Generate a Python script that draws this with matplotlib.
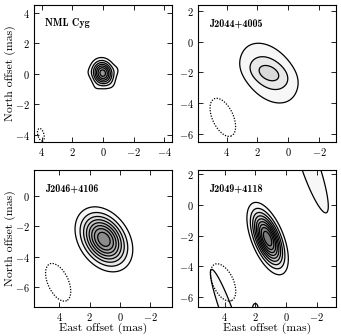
import numpy as np
import matplotlib
matplotlib.use("Agg")
import matplotlib.pyplot as plt
from matplotlib.patches import Ellipse

plt.rcParams.update({
    "font.family": "serif",
    "font.serif": ["cmr10"],
    "mathtext.fontset": "cm",
    "axes.formatter.use_mathtext": True,
    "axes.linewidth": 0.8,
})

NAMES = ["NML Cyg", "J2044+4005", "J2046+4106", "J2049+4118"]
XLIM = [(4.5, -4.5), (5.85, -3.1), (5.66, -3.42), (5.74, -3.26)]
YLIM = [(-4.48, 4.53), (-6.52, 2.37), (-7.29, 1.68), (-6.65, 2.26)]
XTICKS = [[4, 2, 0, -2, -4], [4, 2, 0, -2], [4, 2, 0, -2], [4, 2, 0, -2]]
YTICKS = [[4, 2, 0, -2, -4], [2, 0, -2, -4, -6], [0, -2, -4, -6], [2, 0, -2, -4, -6]]

# contour levels (same for every panel, in units of the lowest one)
LEVELS = [1.0, 2.83, 5.2, 8.0, 11.2, 14.7, 18.5, 22.6, 27.0]
NLEV = [7, 3, 8, 9]

# source model components: (x0, y0, amp, sig_maj, sig_min, pa_deg)
NML_COMP = [(0.02, 0.05, 21.0, 0.42, 0.35, 15), (-0.85, 0.25, 0.8, 0.25, 0.2, 0),
            (0.45, -0.85, 0.6, 0.25, 0.2, 0), (-0.55, -0.7, 0.5, 0.25, 0.2, 0),
            (0.85, 0.1, 0.5, 0.22, 0.2, 0)]
J2044_COMP = [(1.25, -2.05, 2.8, 0.8, 0.45, 70), (1.25, -2.05, 3.8, 1.35, 0.9, 40)]
J2046_COMP = [(1.06, -2.86, 26.3, 0.91, 0.645, 35)]
J2049_COMP = [(1.2, -2.2, 31.0, 0.955, 0.40, 22), (3.85, -7.0, 1.3, 4.1, 0.55, 20),
              (-1.55, 2.6, 1.3, 4.56, 0.8, 19), (2.0, -6.75, 1.3, 0.45, 0.25, 0)]
COMPS = [NML_COMP, J2044_COMP, J2046_COMP, J2049_COMP]
# beam: (x0, y0, minor, major, pa_deg)
BEAMS = [(4.05, -4.0, 0.4, 0.85, 15), (4.24, -4.92, 1.35, 2.65, 25),
         (4.07, -5.67, 1.35, 2.65, 25), (4.1, -5.05, 1.35, 2.6, 25)]


def model(X, Y, comps):
    Z = np.zeros_like(X)
    for x0, y0, amp, smaj, smin, pa in comps:
        t = np.radians(pa)
        dx, dy = X - x0, Y - y0
        u = dx * np.sin(t) + dy * np.cos(t)
        v = dx * np.cos(t) - dy * np.sin(t)
        Z += amp * np.exp(-0.5 * ((u / smaj) ** 2 + (v / smin) ** 2))
    return Z


fig = plt.figure(figsize=(3.41, 3.36), dpi=100)
W, H = 138 / 341, 137 / 336
pos = [(34 / 341, 1 - 142 / 336), (198 / 341, 1 - 142 / 336),
       (34 / 341, 1 - 307 / 336), (198 / 341, 1 - 307 / 336)]

xs = np.linspace(-6, 7, 651)
ys = np.linspace(-9, 4, 651)
X, Y = np.meshgrid(xs, ys)

for i in range(4):
    ax = fig.add_axes([pos[i][0], pos[i][1], W, H])
    Z = model(X, Y, COMPS[i])
    lv = LEVELS[:NLEV[i]]
    cols = [str(round(1.03 - 0.06 * k, 3)) for k in range(1, NLEV[i] + 1)]
    ax.contourf(X, Y, Z, levels=lv + [1000], colors=cols)
    ax.contour(X, Y, Z, levels=lv, colors="k", linewidths=0.9)
    bx, by, bmin, bmaj, bpa = BEAMS[i]
    ax.add_patch(Ellipse((bx, by), bmin, bmaj, angle=-bpa, fill=False,
                         ec="k", lw=0.9, ls=(0, (1, 1.2))))
    ax.set_xlim(*XLIM[i])
    ax.set_ylim(*YLIM[i])
    ax.set_xticks(XTICKS[i])
    ax.set_yticks(YTICKS[i])
    ax.tick_params(direction="in", top=True, right=True, length=3.5, width=0.6,
                   labelsize=7.5, pad=3)
    ax.text(0.08, 0.865, NAMES[i], transform=ax.transAxes, fontname="cmb10",
            fontsize=7.3, ha="left", va="center")
    if i in (0, 2):
        ax.set_ylabel("North offset (mas)", fontsize=8.5, labelpad=-1)
    if i in (2, 3):
        ax.set_xlabel("East offset (mas)", fontsize=8.5, labelpad=0)

fig.savefig("out.png", dpi=100)
